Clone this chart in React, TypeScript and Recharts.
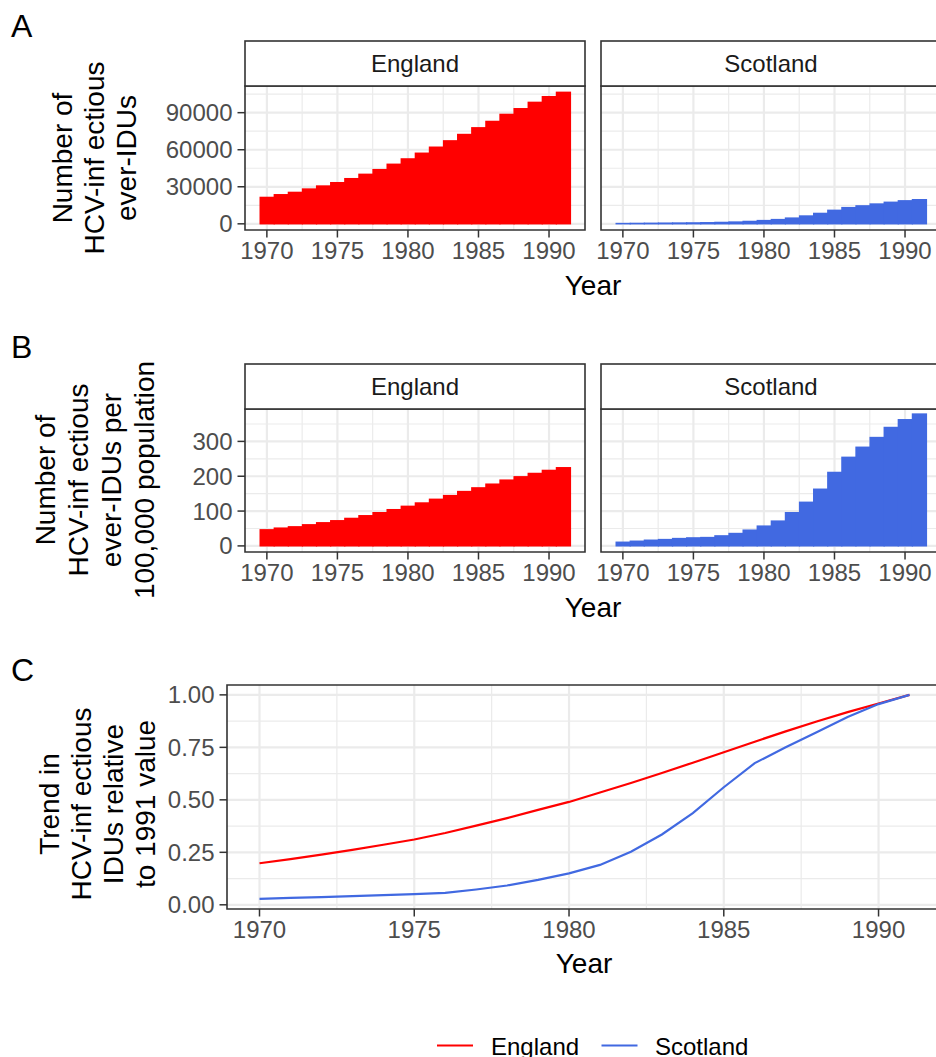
import { BarChart, Bar, LineChart, Line, XAxis, YAxis, CartesianGrid, ReferenceArea } from 'recharts';

const years = [
  1970, 1971, 1972, 1973, 1974, 1975, 1976, 1977, 1978, 1979, 1980,
  1981, 1982, 1983, 1984, 1985, 1986, 1987, 1988, 1989, 1990, 1991
];

// panel A: number of HCV-infectious ever-IDUs
const englandCases = [
  21950, 24120, 26020, 28730, 31170, 33880, 37130, 40650, 44440, 48780, 53120,
  57720, 62600, 67750, 72900, 78320, 83470, 89160, 93770, 98920, 103520, 107050
];
const scotlandCases = [
  800, 900, 1000, 1100, 1200, 1300, 1450, 1700, 2000, 2500, 3200,
  4000, 5200, 6900, 9000, 11500, 13700, 15100, 16600, 18000, 19200, 20100
];

// panel B: per 100,000 population
const englandRate = [
  48.2, 53.0, 56.8, 62.6, 68.4, 74.2, 80.9, 88.6, 97.3, 106.0, 115.6,
  125.2, 135.8, 146.4, 158.0, 168.6, 179.2, 190.8, 200.4, 210.0, 218.7, 226.4
];
const scotlandRate = [
  12.5, 15.4, 18.3, 20.2, 23.1, 25.0, 26.0, 30.8, 37.6, 47.2, 58.8,
  73.2, 97.3, 127.2, 164.7, 212.9, 256.3, 285.2, 313.1, 342.0, 364.2, 380.5
];

// panel C: trend relative to 1991
const englandTrend = [
  0.198, 0.218, 0.239, 0.262, 0.286, 0.311, 0.342, 0.377, 0.413, 0.452, 0.49,
  0.535, 0.58, 0.628, 0.677, 0.727, 0.777, 0.826, 0.873, 0.918, 0.959, 1.0
];
const scotlandTrend = [
  0.028, 0.033, 0.037, 0.041, 0.046, 0.051, 0.057, 0.073, 0.092, 0.119, 0.15,
  0.19, 0.253, 0.335, 0.437, 0.56, 0.675, 0.75, 0.822, 0.895, 0.956, 1.0
];

const yearTicks = [1970, 1975, 1980, 1985, 1990];
const yearMinor = [1972.5, 1977.5, 1982.5, 1987.5];
const casesTicks = [0, 30000, 60000, 90000];
const casesMinor = [15000, 45000, 75000, 105000];
const rateTicks = [0, 100, 200, 300];
const rateMinor = [50, 150, 250, 350];
const trendTicks = [0, 0.25, 0.5, 0.75, 1];
const trendMinor = [0.125, 0.375, 0.625, 0.875];

const RED = '#ff0000';
const BLUE = '#4169e1';
const BORDER = '#333333';
const GRID = '#ebebeb';
const FONT = '"Liberation Sans", Arial, Helvetica, sans-serif';
const STRIP_H = 45;
const X_AXIS_H = 50;
const PAD = 16;
const FACET_X: [number, number] = [1968.45, 1992.55];
const TREND_X: [number, number] = [1968.95, 1992.05];

const tickStyle = { fill: '#4d4d4d', fontSize: 24, fontFamily: FONT };
const tickLineStyle = { stroke: BORDER, strokeWidth: 1.5 };

type FacetProps = {
  left: number;
  top: number;
  width: number;
  height: number;
  values: number[];
  color: string;
  yDomain: [number, number];
  yTicks: number[];
  yMinor: number[];
  showY: boolean;
};

// geom_col(width = 1) look: keep the bar's centre from recharts, span a full year slot
function flushBar(color: string, slot: number) {
  return (props: any) => {
    const { x, y, width, height } = props;
    if (!height) return <g />;
    const cx = x + width / 2;
    return <rect x={cx - slot / 2 - 0.6} y={y} width={slot + 1.2} height={height + 0.6} fill={color} />;
  };
}

function FacetPanel({ left, top, width, height, values, color, yDomain, yTicks, yMinor, showY }: FacetProps) {
  const axisW = showY ? 100 : 0;
  const data = years.map((year, i) => ({ year, value: values[i] }));
  const slot = width / (FACET_X[1] - FACET_X[0]);

  return (
    <div style={{ position: 'absolute', left: left - axisW - PAD, top: top - PAD }}>
      <BarChart
        width={axisW + width + PAD * 2}
        height={height + PAD + X_AXIS_H}
        data={data}
        margin={{ top: PAD, right: PAD, left: PAD, bottom: 0 }}
        barCategoryGap={0}
      >
        <CartesianGrid stroke={GRID} strokeWidth={1.2} horizontalValues={yMinor} verticalValues={yearMinor} />
        <CartesianGrid stroke={GRID} strokeWidth={2.2} horizontalValues={yTicks} verticalValues={yearTicks} />
        <XAxis
          type="number"
          dataKey="year"
          domain={FACET_X}
          ticks={yearTicks}
          interval={0}
          allowDataOverflow
          height={X_AXIS_H}
          axisLine={false}
          tickSize={7.5}
          tickMargin={4}
          tickLine={tickLineStyle}
          tick={tickStyle}
        />
        <YAxis
          hide={!showY}
          width={axisW}
          type="number"
          domain={yDomain}
          ticks={yTicks}
          interval={0}
          allowDataOverflow
          axisLine={false}
          tickSize={7.5}
          tickMargin={5}
          tickLine={tickLineStyle}
          tick={tickStyle}
        />
        <Bar
          dataKey="value"
          fill={color}
          barSize={slot}
          shape={flushBar(color, slot)}
          isAnimationActive={false}
        />
        <ReferenceArea
          x1={FACET_X[0]}
          x2={FACET_X[1]}
          y1={yDomain[0]}
          y2={yDomain[1]}
          fill="none"
          stroke={BORDER}
          strokeWidth={1.6}
          ifOverflow="visible"
        />
      </BarChart>
    </div>
  );
}

function TrendPanel({ left, top, width, height }: { left: number; top: number; width: number; height: number }) {
  const axisW = 80;
  const yDomain: [number, number] = [-0.02, 1.047];
  const data = years.map((year, i) => ({
    year,
    England: englandTrend[i],
    Scotland: scotlandTrend[i]
  }));

  return (
    <div style={{ position: 'absolute', left: left - axisW - PAD, top: top - PAD }}>
      <LineChart
        width={axisW + width + PAD * 2}
        height={height + PAD + X_AXIS_H}
        data={data}
        margin={{ top: PAD, right: PAD, left: PAD, bottom: 0 }}
      >
        <CartesianGrid stroke={GRID} strokeWidth={1.2} horizontalValues={trendMinor} verticalValues={yearMinor} />
        <CartesianGrid stroke={GRID} strokeWidth={2.2} horizontalValues={trendTicks} verticalValues={yearTicks} />
        <XAxis
          type="number"
          dataKey="year"
          domain={TREND_X}
          ticks={yearTicks}
          interval={0}
          allowDataOverflow
          height={X_AXIS_H}
          axisLine={false}
          tickSize={7.5}
          tickMargin={4}
          tickLine={tickLineStyle}
          tick={tickStyle}
        />
        <YAxis
          width={axisW}
          type="number"
          domain={yDomain}
          ticks={trendTicks}
          interval={0}
          allowDataOverflow
          axisLine={false}
          tickSize={7.5}
          tickMargin={5}
          tickLine={tickLineStyle}
          tick={tickStyle}
          tickFormatter={(v) => Number(v).toFixed(2)}
        />
        <Line type="linear" dataKey="England" stroke={RED} strokeWidth={2.2} dot={false} isAnimationActive={false} />
        <Line type="linear" dataKey="Scotland" stroke={BLUE} strokeWidth={2.2} dot={false} isAnimationActive={false} />
        <ReferenceArea
          x1={TREND_X[0]}
          x2={TREND_X[1]}
          y1={yDomain[0]}
          y2={yDomain[1]}
          fill="none"
          stroke={BORDER}
          strokeWidth={1.6}
          ifOverflow="visible"
        />
      </LineChart>
    </div>
  );
}

function Strip({ x, y, w, label }: { x: number; y: number; w: number; label: string }) {
  return (
    <g>
      <rect x={x} y={y} width={w} height={STRIP_H} fill="#fff" stroke={BORDER} strokeWidth={1.6} />
      <text x={x + w / 2} y={y + 31} textAnchor="middle" fontSize={24} fill="#1a1a1a">
        {label}
      </text>
    </g>
  );
}

function YTitle({ lines, x0, step, cy }: { lines: string[]; x0: number; step: number; cy: number }) {
  return (
    <g>
      {lines.map((line, i) => (
        <text
          key={line}
          transform={`translate(${x0 + i * step},${cy}) rotate(-90)`}
          textAnchor="middle"
          fontSize={28}
          fill="#000"
        >
          {line}
        </text>
      ))}
    </g>
  );
}

export default function App() {
  return (
    <div
      style={{
        position: 'absolute',
        left: 0,
        top: 0,
        width: 936,
        height: 1057,
        overflow: 'hidden',
        background: '#fff',
        fontFamily: FONT
      }}
    >
      <FacetPanel
        left={245} top={86} width={340} height={144}
        values={englandCases} color={RED}
        yDomain={[-5000, 111600]} yTicks={casesTicks} yMinor={casesMinor} showY
      />
      <FacetPanel
        left={601} top={86} width={340} height={144}
        values={scotlandCases} color={BLUE}
        yDomain={[-5000, 111600]} yTicks={casesTicks} yMinor={casesMinor} showY={false}
      />
      <FacetPanel
        left={245} top={409} width={340} height={143}
        values={englandRate} color={RED}
        yDomain={[-17.5, 393]} yTicks={rateTicks} yMinor={rateMinor} showY
      />
      <FacetPanel
        left={601} top={409} width={340} height={143}
        values={scotlandRate} color={BLUE}
        yDomain={[-17.5, 393]} yTicks={rateTicks} yMinor={rateMinor} showY={false}
      />
      <TrendPanel left={227} top={685} width={715} height={224} />

      <svg
        width={936}
        height={1057}
        style={{ position: 'absolute', left: 0, top: 0, pointerEvents: 'none', fontFamily: FONT }}
      >
        <text x={11} y={37} fontSize={32} fill="#000">A</text>
        <text x={11} y={358} fontSize={32} fill="#000">B</text>
        <text x={11} y={681} fontSize={32} fill="#000">C</text>

        <Strip x={245} y={41} w={340} label="England" />
        <Strip x={601} y={41} w={340} label="Scotland" />
        <Strip x={245} y={364} w={340} label="England" />
        <Strip x={601} y={364} w={340} label="Scotland" />

        <YTitle lines={['Number of', 'HCV-inf ectious', 'ever-IDUs']} x0={71.5} step={32} cy={158} />
        <YTitle
          lines={['Number of', 'HCV-inf ectious', 'ever-IDUs per', '100,000 population']}
          x0={54.5} step={33} cy={480}
        />
        <YTitle
          lines={['Trend in', 'HCV-inf ectious', 'IDUs relative', 'to 1991 value']}
          x0={58.5} step={32} cy={804}
        />

        <text x={593} y={295} textAnchor="middle" fontSize={28} fill="#000">Year</text>
        <text x={593} y={617} textAnchor="middle" fontSize={28} fill="#000">Year</text>
        <text x={584} y={973} textAnchor="middle" fontSize={28} fill="#000">Year</text>

        <line x1={437} x2={473} y1={1045.5} y2={1045.5} stroke={RED} strokeWidth={2} />
        <text x={491} y={1054.5} fontSize={24} fill="#000">England</text>
        <line x1={601.5} x2={637.5} y1={1045.5} y2={1045.5} stroke={BLUE} strokeWidth={2} />
        <text x={655} y={1054.5} fontSize={24} fill="#000">Scotland</text>
      </svg>
    </div>
  );
}
